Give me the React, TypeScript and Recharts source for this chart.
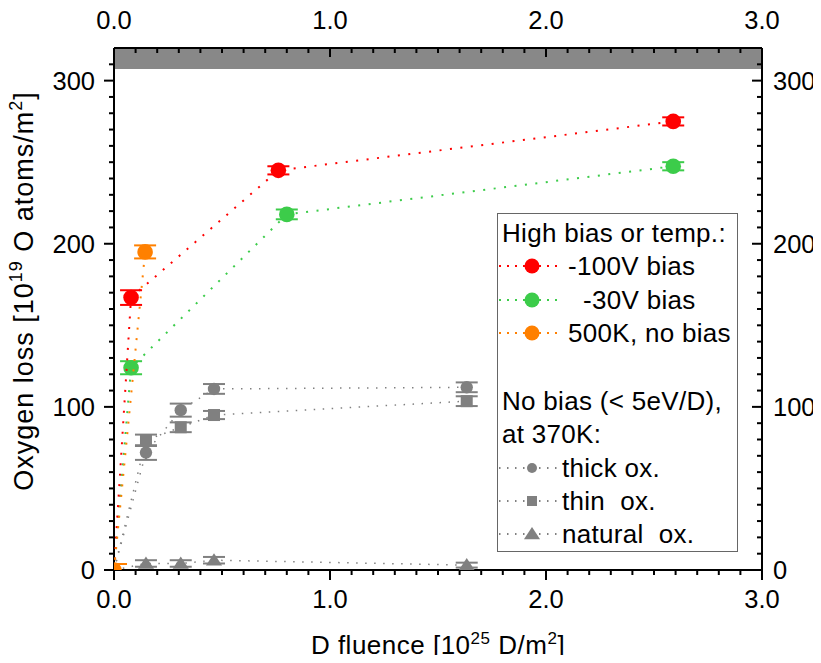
import React from "react";
import { ScatterChart, Scatter, XAxis, YAxis, ErrorBar, CartesianGrid, Label } from "recharts";

const FONT = '"Liberation Sans", Arial, sans-serif';
const FS = 25.5;

const RED = "#ff0000";
const GREEN = "#3ccc4a";
const ORANGE = "#ff8000";
const GREY = "#808080";
// translucent black reads as #888 on white and keeps the top ticks visible
const BAND = "rgba(0,0,0,0.466)";

// ticks: every 0.1 / 10, labels only on the majors
const xTicks = Array.from({ length: 31 }, (_, i) => i / 10);
const yTicks = Array.from({ length: 32 }, (_, i) => i * 10);

// high bias or temperature
const redX = [0, 0.079, 0.761, 2.589];
const redY = [0, 167, 245, 275];
const redErr = [0, 4.5, 2.5, 2.5];
const greenX = [0, 0.079, 0.8, 2.589];
const greenY = [0, 124, 218, 247.5];
const greenErr = [0, 4, 3, 2.5];
const orangeX = [0, 0.144];
const orangeY = [0, 195];
const orangeErr = [0, 4];

// no bias, 370K
const greyX = [0, 0.148, 0.309, 0.463, 1.633];
const thickY = [0, 72, 98, 111, 112];
const thickErr = [0, 4.5, 4, 3, 3];
const thinY = [0, 79.5, 87.5, 95, 103.5];
const thinErr = [0, 3.5, 3, 2.5, 3];
const naturalY = [0, 4, 4, 6, 3];
const naturalErr = [0, 2, 2, 2, 1.5];

// grey band at the top of the plot
const bandY = [307, 320];

const legendHigh = ["-100V bias", "  -30V bias", "500K, no bias"];
const legendLow = ["thick ox.", "thin  ox.", "natural  ox."];

const toPoints = (xs, ys, errs) => xs.map((x, i) => ({ x, y: ys[i], err: errs[i] }));

const marker = (kind, color, size, cx, cy) => {
  if (kind === "circle") return <circle cx={cx} cy={cy} r={size} fill={color} />;
  if (kind === "square")
    return <rect x={cx - size} y={cy - size} width={size * 2} height={size * 2} fill={color} />;
  return (
    <polygon
      points={`${cx},${cy - size} ${cx + size * 1.15},${cy + size * 0.75} ${cx - size * 1.15},${cy + size * 0.75}`}
      fill={color}
    />
  );
};

// origin handling: "none" hides the marker, "quarter" shows only the part inside the frame
const makeShape = (kind, color, size, origin = "none") => (props) => {
  const { cx, cy, payload } = props;
  if (payload && payload.x === 0) {
    if (origin === "none") return <g />;
    return (
      <g>
        <path d={`M${cx},${cy} L${cx},${cy - size} A${size},${size} 0 0 1 ${cx + size},${cy} Z`} fill={color} />
        <line x1={cx} y1={cy - 6} x2={cx + 13} y2={cy - 6} stroke={color} strokeWidth={2} />
      </g>
    );
  }
  return marker(kind, color, size, cx, cy);
};

const tickLine = (x1, y1, x2, y2) => (
  <line x1={x1} y1={y1} x2={x2} y2={y2} stroke="#000" strokeWidth={2} />
);

const BottomTick = ({ x, y, payload }) => {
  const major = Number.isInteger(payload.value);
  return (
    <g>
      {tickLine(x, y, x, y + (major ? 10 : 5))}
      {major && (
        <text x={x} y={y + 38} textAnchor="middle" fontFamily={FONT} fontSize={FS} fill="#000">
          {payload.value.toFixed(1)}
        </text>
      )}
    </g>
  );
};

const TopTick = ({ x, y, payload }) => {
  const major = Number.isInteger(payload.value);
  return (
    <g>
      {tickLine(x, y, x, y + (major ? 9 : 5))}
      {major && (
        <text x={x} y={y - 19} textAnchor="middle" fontFamily={FONT} fontSize={FS} fill="#000">
          {payload.value.toFixed(1)}
        </text>
      )}
    </g>
  );
};

const LeftTick = ({ x, y, payload }) => {
  const major = payload.value % 100 === 0;
  return (
    <g>
      {tickLine(x - (major ? 10 : 5), y, x, y)}
      {major && (
        <text x={x - 19} y={y} dy="0.35em" textAnchor="end" fontFamily={FONT} fontSize={FS} fill="#000">
          {payload.value}
        </text>
      )}
    </g>
  );
};

const RightTick = ({ x, y, payload }) => {
  const major = payload.value % 100 === 0;
  return (
    <g>
      {tickLine(x - (major ? 10 : 5), y, x, y)}
      {major && (
        <text x={x + 11} y={y} dy="0.35em" textAnchor="start" fontFamily={FONT} fontSize={FS} fill="#000">
          {payload.value}
        </text>
      )}
    </g>
  );
};

const XTitle = ({ viewBox }) => {
  const cx = viewBox.x + viewBox.width / 2;
  return (
    <text x={cx} y={viewBox.y + 84} textAnchor="middle" fontFamily={FONT} fontSize={26} letterSpacing={0.5} fill="#000">
      D fluence [10
      <tspan dy={-10} fontSize={17}>25</tspan>
      <tspan dy={10}> D/m</tspan>
      <tspan dy={-10} fontSize={17}>2</tspan>
      <tspan dy={10}>]</tspan>
    </text>
  );
};

const YTitle = () => {
  const cx = 15.5;
  const cy = 283;
  return (
    <text
      x={cx}
      y={cy}
      dy="0.35em"
      transform={`rotate(-90, ${cx}, ${cy})`}
      textAnchor="middle"
      fontFamily={FONT}
      fontSize={27}
      letterSpacing={1}
      fill="#000"
    >
      Oxygen loss [10
      <tspan dy={-11} fontSize={18}>19</tspan>
      <tspan dy={11}> O atoms/m</tspan>
      <tspan dy={-11} fontSize={18}>2</tspan>
      <tspan dy={11}>]</tspan>
    </text>
  );
};

const LegendSample = ({ color, kind, size, dash }) => (
  <svg width={60} height={30} style={{ position: "absolute", left: 1, top: 0 }}>
    <line x1={0} y1={15} x2={58} y2={15} stroke={color} strokeWidth={2} strokeDasharray={dash} />
    {marker(kind, color, size, 33, 15)}
  </svg>
);

const Row = ({ top, children }) => (
  <div style={{ position: "absolute", left: 0, right: 0, top: top - 15, height: 30 }}>{children}</div>
);

const textStyle = (left) => ({
  position: "absolute" as const,
  left,
  top: 0,
  lineHeight: "30px",
  whiteSpace: "pre" as const,
});

const ChartLegend = () => {
  const high = [RED, GREEN, ORANGE];
  const lowKinds = ["circle", "square", "triangle"];
  const lowSizes = [5, 5, 7];
  return (
    <div
      style={{
        position: "absolute",
        left: 489,
        top: 205,
        width: 241,
        height: 339,
        border: "1px solid #666",
        boxSizing: "border-box",
        background: "#fff",
        fontFamily: FONT,
        fontSize: 26,
        letterSpacing: 0.3,
        color: "#000",
      }}
    >
      <Row top={19}>
        <span style={textStyle(4)}>High bias or temp.:</span>
      </Row>
      {legendHigh.map((t, i) => (
        <Row key={t} top={52 + i * 33.5}>
          <LegendSample color={high[i]} kind="circle" size={7.5} dash="2 6" />
          <span style={textStyle(70)}>{t}</span>
        </Row>
      ))}
      <Row top={187}>
        <span style={textStyle(4)}>No bias (&lt; 5eV/D),</span>
      </Row>
      <Row top={220}>
        <span style={textStyle(4)}>at 370K:</span>
      </Row>
      {legendLow.map((t, i) => (
        <Row key={t} top={254 + i * 33}>
          <LegendSample color={GREY} kind={lowKinds[i]} size={lowSizes[i]} dash="1.5 6.5" />
          <span style={textStyle(64)}>{t}</span>
        </Row>
      ))}
    </div>
  );
};

export default function App() {
  const redDots = "2 8.5";
  const greyDots = "1.5 7.5";
  return (
    <div style={{ position: "relative", width: 805, height: 647 }}>
      <style>{`.recharts-surface{overflow:visible}`}</style>
      <ScatterChart width={805} height={647} margin={{ top: 0, right: 0, bottom: 0, left: 0 }}>
        <CartesianGrid
          xAxisId="bottom"
          yAxisId="left"
          vertical={false}
          horizontalValues={bandY}
          horizontalFill={[BAND, "none"]}
          stroke="none"
        />
        <XAxis
          xAxisId="bottom"
          type="number"
          dataKey="x"
          domain={[0, 3]}
          ticks={xTicks}
          interval={0}
          height={85}
          allowDataOverflow
          tickSize={0}
          tickMargin={0}
          tickLine={false}
          tick={BottomTick}
          axisLine={{ stroke: "#000", strokeWidth: 2 }}
        >
          <Label content={XTitle} />
        </XAxis>
        <XAxis
          xAxisId="top"
          orientation="top"
          type="number"
          dataKey="x"
          domain={[0, 3]}
          ticks={xTicks}
          interval={0}
          height={40}
          allowDataOverflow
          tickSize={0}
          tickMargin={0}
          tickLine={false}
          tick={TopTick}
          axisLine={{ stroke: "#000", strokeWidth: 2 }}
        />
        <YAxis
          yAxisId="left"
          type="number"
          dataKey="y"
          domain={[0, 320]}
          ticks={yTicks}
          interval={0}
          width={106}
          allowDataOverflow
          tickSize={0}
          tickMargin={0}
          tickLine={false}
          tick={LeftTick}
          axisLine={{ stroke: "#000", strokeWidth: 2 }}
        >
          <Label content={YTitle} />
        </YAxis>
        <YAxis
          yAxisId="right"
          orientation="right"
          type="number"
          dataKey="y"
          domain={[0, 320]}
          ticks={yTicks}
          interval={0}
          width={51}
          allowDataOverflow
          tickSize={0}
          tickMargin={0}
          tickLine={false}
          tick={RightTick}
          axisLine={{ stroke: "#000", strokeWidth: 2 }}
        />

        <Scatter name="natural ox." xAxisId="bottom" yAxisId="left" data={toPoints(greyX, naturalY, naturalErr)} fill={GREY}
          shape={makeShape("triangle", GREY, 7)} line={{ stroke: GREY, strokeWidth: 1.5, strokeDasharray: greyDots }}
          lineType="joint" isAnimationActive={false}>
          <ErrorBar dataKey="err" direction="y" width={11} stroke={GREY} strokeWidth={2} />
        </Scatter>
        <Scatter name="thin ox." xAxisId="bottom" yAxisId="left" data={toPoints(greyX, thinY, thinErr)} fill={GREY}
          shape={makeShape("square", GREY, 6)} line={{ stroke: GREY, strokeWidth: 1.5, strokeDasharray: greyDots }}
          lineType="joint" isAnimationActive={false}>
          <ErrorBar dataKey="err" direction="y" width={11} stroke={GREY} strokeWidth={2} />
        </Scatter>
        <Scatter name="thick ox." xAxisId="bottom" yAxisId="left" data={toPoints(greyX, thickY, thickErr)} fill={GREY}
          shape={makeShape("circle", GREY, 6.2)} line={{ stroke: GREY, strokeWidth: 1.5, strokeDasharray: greyDots }}
          lineType="joint" isAnimationActive={false}>
          <ErrorBar dataKey="err" direction="y" width={11} stroke={GREY} strokeWidth={2} />
        </Scatter>
        <Scatter name="-30V bias" xAxisId="bottom" yAxisId="left" data={toPoints(greenX, greenY, greenErr)} fill={GREEN}
          shape={makeShape("circle", GREEN, 7.8)} line={{ stroke: GREEN, strokeWidth: 2, strokeDasharray: redDots }}
          lineType="joint" isAnimationActive={false}>
          <ErrorBar dataKey="err" direction="y" width={11} stroke={GREEN} strokeWidth={2} />
        </Scatter>
        <Scatter name="-100V bias" xAxisId="bottom" yAxisId="left" data={toPoints(redX, redY, redErr)} fill={RED}
          shape={makeShape("circle", RED, 7.8)} line={{ stroke: RED, strokeWidth: 2, strokeDasharray: redDots }}
          lineType="joint" isAnimationActive={false}>
          <ErrorBar dataKey="err" direction="y" width={11} stroke={RED} strokeWidth={2} />
        </Scatter>
        <Scatter name="500K, no bias" xAxisId="bottom" yAxisId="left" data={toPoints(orangeX, orangeY, orangeErr)} fill={ORANGE}
          shape={makeShape("circle", ORANGE, 7.8, "quarter")} line={{ stroke: ORANGE, strokeWidth: 2, strokeDasharray: redDots }}
          lineType="joint" isAnimationActive={false}>
          <ErrorBar dataKey="err" direction="y" width={11} stroke={ORANGE} strokeWidth={2} />
        </Scatter>
      </ScatterChart>
      <ChartLegend />
    </div>
  );
}
